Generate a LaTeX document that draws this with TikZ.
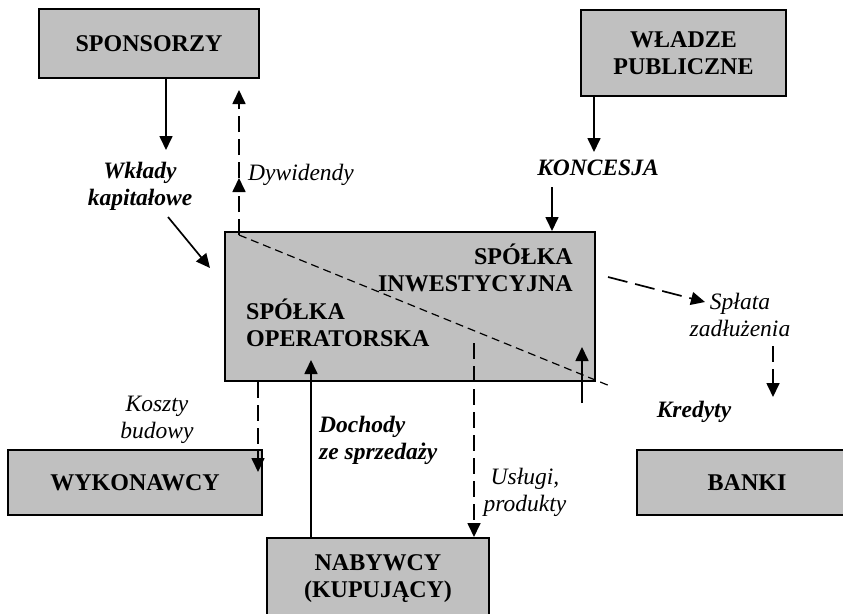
\documentclass[tikz,border=0pt]{standalone}
\usepackage{fontspec}
\setmainfont{Liberation Serif}
\usetikzlibrary{arrows.meta}
\definecolor{boxgray}{RGB}{192,192,192}

\begin{document}
\begin{tikzpicture}[x=1pt,y=-1pt,
	box/.style={draw=black,line width=2pt,fill=boxgray,inner sep=0pt,
		align=center,font=\fontsize{24}{27}\selectfont\bfseries},
	boxtxt/.style={inner sep=0pt,font=\fontsize{24}{27}\selectfont\bfseries},
	lbl/.style={inner sep=0pt,align=center,font=\fontsize{23.5}{27}\selectfont\itshape},
	blbl/.style={lbl,font=\fontsize{23.5}{27}\selectfont\bfseries\itshape},
	arr/.style={line width=1.7pt,-{Triangle[length=14pt,width=13pt]}},
	dsh/.style={arr,dash pattern=on 16pt off 7pt},
	dshlong/.style={arr,dash pattern=on 20pt off 8pt}]
	\useasboundingbox (0,0) rectangle (843,613);
	% boxes
	\node[box,minimum width=220pt,minimum height=69pt] (spons) at (149,43.5) {SPONSORZY};
	\node[box,minimum width=205pt,minimum height=86pt] (wladze) at (683.5,53) {WŁADZE\\PUBLICZNE};
	\node[box,minimum width=370pt,minimum height=149pt] (spolka) at (410,306.5) {};
	\node[box,minimum width=254pt,minimum height=65pt] (wyk) at (135,482.5) {WYKONAWCY};
	\node[box,minimum width=220pt,minimum height=65pt] (banki) at (747,482.5) {BANKI};
	\node[box,minimum width=222pt,minimum height=82pt] (nabyw) at (378,579) {NABYWCY\\(KUPUJĄCY)};
	% inside the project company
	\node[boxtxt,align=right,anchor=east] (inw) at (573,267.5) {SPÓŁKA\\INWESTYCYJNA};
	\node[boxtxt,align=left,anchor=west] (oper) at (246,323) {SPÓŁKA\\OPERATORSKA};
	\coordinate (corner) at (239,235);
	\coordinate (diagend) at (610,386);
	\draw[line width=1.2pt,dash pattern=on 8pt off 5pt] (corner) -- (diagend);
	% labels
	\node[blbl] (wklady) at (140,186) {Wkłady\\kapitałowe};
	\node[lbl,anchor=base west] (dyw) at (248,180) {Dywidendy};
	\node[blbl,anchor=base] (konc) at (598,175) {KONCESJA};
	\node[lbl] (koszty) at (157,420) {Koszty\\budowy};
	\node[blbl,align=left,anchor=west] (doch) at (319,440) {Dochody\\ze sprzedaży};
	\node[lbl] (uslugi) at (525,492) {Usługi,\\produkty};
	\node[lbl] (splata) at (740,315) {Spłata\\zadłużenia};
	\node[blbl,anchor=base] (kred) at (694,417) {Kredyty};
	% top flows
	\coordinate (wk) at (166,150);
	\draw[arr] (spons.south -| wk) -- (wk);
	\coordinate (wka) at (168,217);
	\coordinate (wkb) at (210,268);
	\draw[arr] (wka) -- (wkb);
	\coordinate (dywmid) at (239,178);
	\coordinate (dywtop) at (239,90);
	\draw[dsh] (corner) -- (dywmid);
	\draw[dsh] (dywmid) -- (dywtop);
	\coordinate (kon) at (594,152);
	\draw[arr] (wladze.south -| kon) -- (kon);
	\coordinate (kon2) at (552,187);
	\draw[arr] (kon2) -- (kon2 |- spolka.north);
	% bottom flows
	\coordinate (ko) at (258,472);
	\draw[dsh] (ko |- spolka.south) -- (ko);
	\coordinate (dochin) at (311,360);
	\draw[arr] (dochin |- nabyw.north) -- (dochin);
	\coordinate (usl) at (474,343);
	\draw[dsh] (usl) -- (usl |- nabyw.north);
	% banks
	\coordinate (kr1) at (582,403);
	\coordinate (kr2) at (582,347);
	\draw[arr] (kr1) -- (kr2);
	\coordinate (sp1) at (608,277);
	\coordinate (sp2) at (705,302);
	\draw[dshlong] (sp1) -- (sp2);
	\coordinate (sp3) at (773,346);
	\coordinate (sp4) at (773,397);
	\draw[dsh] (sp3) -- (sp4);
\end{tikzpicture}
\end{document}
